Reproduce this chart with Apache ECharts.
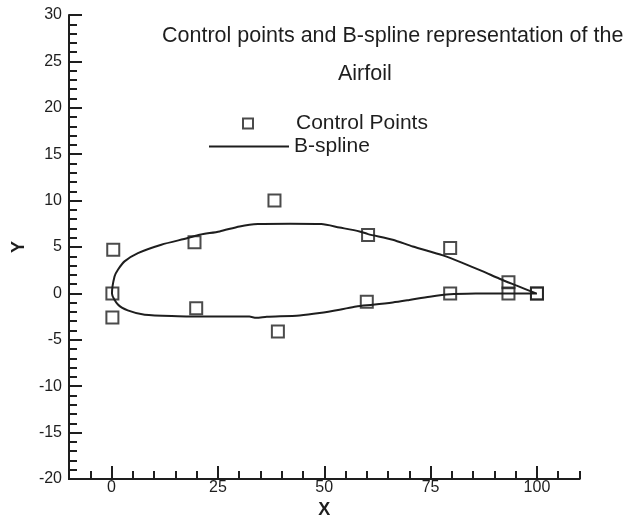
<!DOCTYPE html>
<html>
<head>
<meta charset="utf-8">
<script src="https://cdn.jsdelivr.net/npm/echarts@6/dist/echarts.min.js"></script>
<style>
  html, body { margin: 0; padding: 0; background: #fff; }
  #chart { width: 631px; height: 521px; }
</style>
</head>
<body>
<div id="chart"></div>
<script>
// control points (upper TE -> LE -> lower TE)
const controlX = [100, 93.3, 79.6, 60.3, 38.3, 19.5, 0.4, 0.2, 0.2, 19.9, 39.1, 60, 79.6, 93.3, 100];
const controlY = [0, 1.2, 4.9, 6.3, 10, 5.5, 4.7, 0, -2.6, -1.6, -4.1, -0.9, 0, 0, 0];

// B-spline curve (upper surface TE -> LE, then lower LE -> TE)
const splineX = [99.8, 95.1, 91.2, 87.3, 82.6, 77.9, 70.8, 66.1, 60.3, 58.3, 53.6, 49.3, 42, 34.4, 30.1, 25.4, 20.7, 17.9, 11.7, 6.2, 3.05, 1.5, 0.7, 0.1,
  1.5, 3.8, 7.8, 15.6, 20.7, 32.4, 34, 36.5, 44.2, 48.9, 53.6, 57.5, 61.4, 66.1, 70, 74.8, 79.6, 86, 92.8, 100];
const splineY = [0, 0.86, 1.58, 2.37, 3.27, 4.1, 5.06, 5.79, 6.39, 6.68, 7.1, 7.47, 7.5, 7.47, 7.22, 6.68, 6.32, 5.96, 5.25, 4.34, 3.45, 2.55, 1.83, 0,
  -1.2, -1.83, -2.3, -2.45, -2.48, -2.5, -2.62, -2.52, -2.37, -2.12, -1.76, -1.4, -1.22, -0.97, -0.7, -0.35, -0.1, -0.02, 0, 0];

const xMajor = [0, 25, 50, 75, 100];
const xMinor = [-5, 5, 10, 15, 20, 30, 35, 40, 45, 55, 60, 65, 70, 80, 85, 90, 95, 105, 110];

const ink = '#1e1e1e';
const font = 'Liberation Sans, Arial, sans-serif';

const chart = echarts.init(document.getElementById('chart'));

const baseX = {
  type: 'value',
  min: -10,
  max: 110,
  position: 'bottom',
  splitLine: { show: false },
  axisLine: { onZero: false, lineStyle: { color: ink, width: 2 } },
};

const option = {
  animation: false,
  title: [
    {
      text: 'Control points and B-spline representation of the',
      left: 157, top: 20,
      textStyle: { fontFamily: font, fontSize: 21.5, fontWeight: 'normal', color: ink },
    },
    {
      text: 'Airfoil',
      left: 333, top: 58,
      textStyle: { fontFamily: font, fontSize: 21.5, fontWeight: 'normal', color: ink },
    },
  ],
  legend: [
    {
      data: [{ name: 'Control Points', icon: 'rect' }],
      left: 242, top: 113,
      padding: 0,
      itemWidth: 10, itemHeight: 10,
      textStyle: { fontFamily: font, fontSize: 21, color: ink, padding: [0, 0, 0, 38] },
    },
    {
      data: ['B-spline'],
      left: 208, top: 136,
      padding: 0,
      itemWidth: 80, itemHeight: 10,
      itemStyle: { opacity: 0 },
      textStyle: { fontFamily: font, fontSize: 21, color: ink },
    },
  ],
  grid: { left: 69, right: 51.5, top: 15, bottom: 42, outerBoundsMode: 'none' },
  xAxis: [
    {
      ...baseX,
      name: 'X',
      nameLocation: 'middle',
      nameGap: 20,
      nameTextStyle: { fontFamily: font, fontSize: 18, fontWeight: 'bold', color: ink },
      axisTick: { inside: true, length: 13, customValues: xMajor, lineStyle: { color: ink, width: 2 } },
      axisLabel: { customValues: xMajor, margin: 1, fontFamily: font, fontSize: 16, color: ink },
    },
    {
      ...baseX,
      axisTick: { inside: true, length: 8, customValues: xMinor, lineStyle: { color: ink, width: 2 } },
      axisLabel: { show: false },
    },
  ],
  yAxis: {
    type: 'value',
    min: -20,
    max: 30,
    interval: 5,
    name: 'Y',
    nameLocation: 'middle',
    nameGap: 37,
    nameRotate: 90,
    nameTextStyle: { fontFamily: font, fontSize: 18, fontWeight: 'bold', color: ink },
    splitLine: { show: false },
    axisLine: { onZero: false, lineStyle: { color: ink, width: 2 } },
    axisTick: { inside: true, length: 13, lineStyle: { color: ink, width: 2 } },
    minorTick: { show: true, splitNumber: 5, length: 8, lineStyle: { color: ink, width: 2 } },
    axisLabel: { margin: 7, fontFamily: font, fontSize: 16, color: ink },
  },
  series: [
    {
      name: 'B-spline',
      type: 'line',
      data: splineX.map((x, i) => [x, splineY[i]]),
      smooth: 0.25,
      symbol: 'none',
      lineStyle: { color: ink, width: 2 },
      itemStyle: { color: ink },
      z: 2,
    },
    {
      name: 'Control Points',
      type: 'scatter',
      data: controlX.map((x, i) => [x, controlY[i]]),
      symbol: 'rect',
      symbolSize: 12,
      itemStyle: { color: 'transparent', borderColor: ink, borderWidth: 2 },
      z: 3,
    },
  ],
};

chart.setOption(option);
</script>
</body>
</html>
